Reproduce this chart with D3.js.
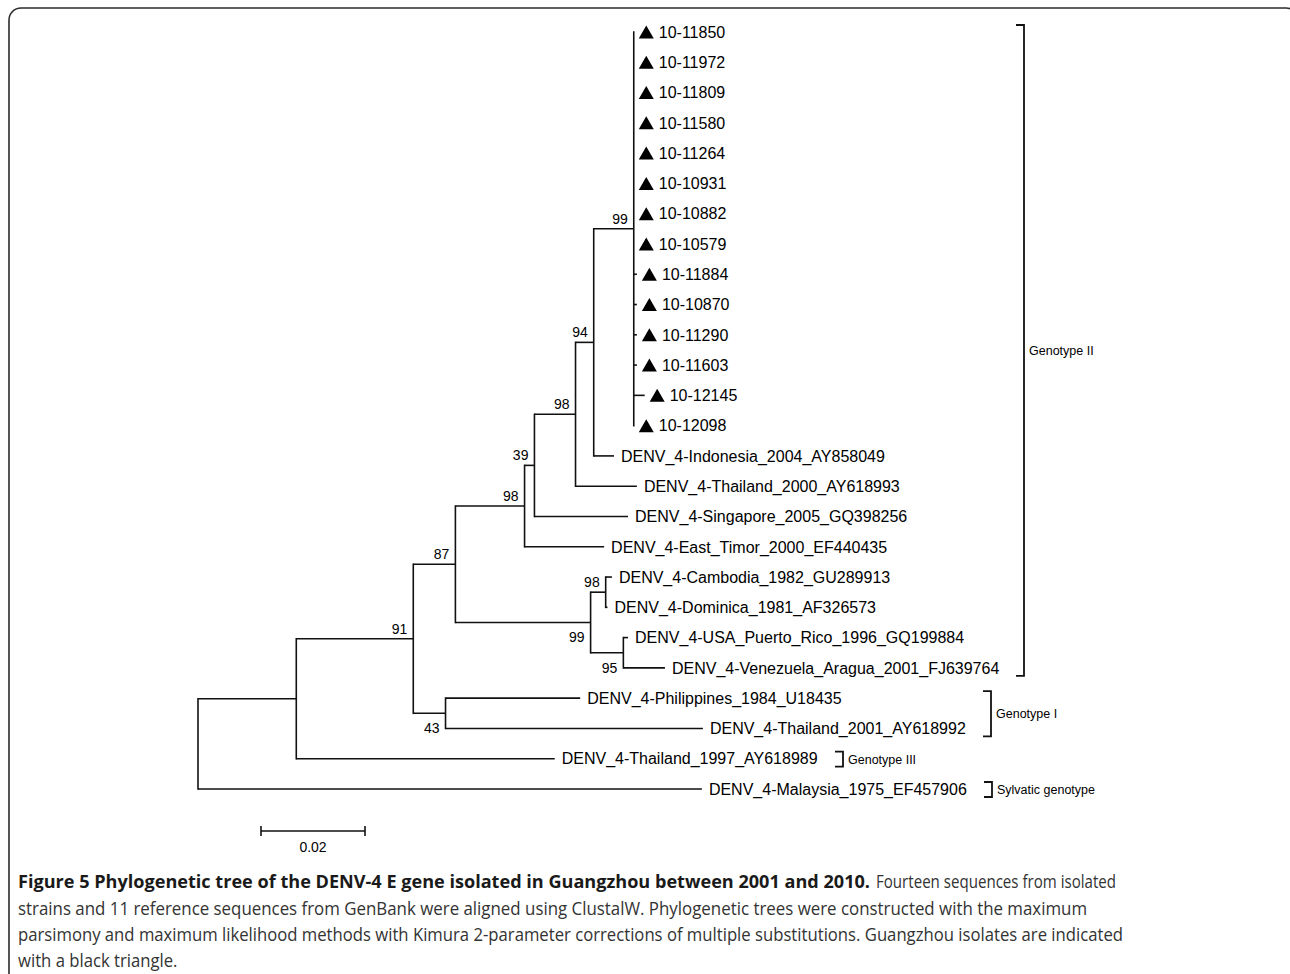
<!DOCTYPE html>
<html>
<head>
<meta charset="utf-8">
<script src="https://cdn.jsdelivr.net/npm/d3@7"></script>
<style>
  html, body { margin: 0; padding: 0; background: #fff; }
  svg { display: block; }
</style>
</head>
<body>
<svg id="chart" width="1290" height="974"></svg>
<script>
// ---------------- DATA ----------------
// Internal nodes of the tree (top-to-bottom child order is the order of appearance)
const internalNodes   = ["root", "A", "n91", "n87", "n98b", "n39", "n98a", "n94", "n99a", "n99b", "n98c", "n95", "n43"];
const internalParents = [null, "root", "A", "n91", "n87", "n98b", "n39", "n98a", "n94", "n87", "n99b", "n99b", "n91"];
const internalLengths = [0, 0.0189, 0.0225, 0.0081, 0.0133, 0.0019, 0.0079, 0.0035, 0.0077, 0.0260, 0.0029, 0.0063, 0.0062];
const bootstrap       = [null, null, 91, 87, 98, 39, 98, 94, 99, 99, 98, 95, 43];

// Leaves (taxa)
const leafNames = [
  "10-11850", "10-11972", "10-11809", "10-11580", "10-11264", "10-10931", "10-10882",
  "10-10579", "10-11884", "10-10870", "10-11290", "10-11603", "10-12145", "10-12098",
  "DENV_4-Indonesia_2004_AY858049", "DENV_4-Thailand_2000_AY618993",
  "DENV_4-Singapore_2005_GQ398256", "DENV_4-East_Timor_2000_EF440435",
  "DENV_4-Cambodia_1982_GU289913", "DENV_4-Dominica_1981_AF326573",
  "DENV_4-USA_Puerto_Rico_1996_GQ199884", "DENV_4-Venezuela_Aragua_2001_FJ639764",
  "DENV_4-Philippines_1984_U18435", "DENV_4-Thailand_2001_AY618992",
  "DENV_4-Thailand_1997_AY618989", "DENV_4-Malaysia_1975_EF457906"
];
const leafParents = [
  "n99a", "n99a", "n99a", "n99a", "n99a", "n99a", "n99a",
  "n99a", "n99a", "n99a", "n99a", "n99a", "n99a", "n99a",
  "n94", "n98a", "n39", "n98b", "n98c", "n98c", "n95", "n95",
  "n43", "n43", "A", "root"
];
const leafLengths = [
  0, 0, 0, 0, 0, 0, 0,
  0, 0.0006, 0.0006, 0.0006, 0.0006, 0.0021, 0,
  0.0039, 0.0118, 0.0180, 0.0153, 0.0012, 0.00035, 0.0009, 0.0080,
  0.0259, 0.0495, 0.0497, 0.0969
];
// Guangzhou isolates (black triangle)
const isolateFlags = [
  true, true, true, true, true, true, true,
  true, true, true, true, true, true, true,
  false, false, false, false, false, false, false, false,
  false, false, false, false
];

// Genotype groups
const genotypeNames     = ["Genotype II", "Genotype I", "Genotype III", "Sylvatic genotype"];
const genotypeFirstLeaf = ["10-11850", "DENV_4-Philippines_1984_U18435", "DENV_4-Thailand_1997_AY618989", "DENV_4-Malaysia_1975_EF457906"];
const genotypeLastLeaf  = ["DENV_4-Venezuela_Aragua_2001_FJ639764", "DENV_4-Thailand_2001_AY618992", "DENV_4-Thailand_1997_AY618989", "DENV_4-Malaysia_1975_EF457906"];

// Scale bar
const scaleBarValue = 0.02;
const scaleBarLabel = "0.02";

// Caption
const captionBold = "Figure 5 Phylogenetic tree of the DENV-4 E gene isolated in Guangzhou between 2001 and 2010.";
const captionLines = [
  "Fourteen sequences from isolated",
  "strains and 11 reference sequences from GenBank were aligned using ClustalW. Phylogenetic trees were constructed with the maximum",
  "parsimony and maximum likelihood methods with Kimura 2-parameter corrections of multiple substitutions. Guangzhou isolates are indicated",
  "with a black triangle."
];

// ---------------- BUILD ----------------
const rows = internalNodes.map((id, i) => ({
  id, parent: internalParents[i], length: internalLengths[i], support: bootstrap[i], leaf: false
})).concat(leafNames.map((id, i) => ({
  id, parent: leafParents[i], length: leafLengths[i], isolate: isolateFlags[i], leaf: true
})));

const root = d3.stratify().id(d => d.id).parentId(d => d.parent)(rows);
root.eachBefore(d => { d.dist = d.parent ? d.parent.dist + d.data.length : 0; });

const leaves = root.leaves();
const yScale = d3.scaleLinear().domain([0, leaves.length - 1]).range([32, 789]);
leaves.forEach((d, i) => { d.ypos = yScale(i); });
root.eachAfter(d => {
  if (d.children) d.ypos = (d.children[0].ypos + d.children[d.children.length - 1].ypos) / 2;
});

const xScale = d3.scaleLinear().domain([0, 0.02]).range([198, 302]);

const svg = d3.select("#chart");
const treeFont = "'Liberation Sans', Arial, Helvetica, sans-serif";

// Border
svg.append("rect")
  .attr("x", 9).attr("y", 8).attr("width", 1289).attr("height", 1100)
  .attr("rx", 12).attr("ry", 12)
  .attr("fill", "none").attr("stroke", "#2b2b2b").attr("stroke-width", 1.6);

const tree = svg.append("g");

// Horizontal branches
tree.selectAll("line.h")
  .data(root.descendants().filter(d => d.parent))
  .join("line")
  .attr("class", "h")
  .attr("x1", d => xScale(d.parent.dist))
  .attr("x2", d => xScale(d.dist))
  .attr("y1", d => d.ypos).attr("y2", d => d.ypos)
  .attr("stroke", "#111").attr("stroke-width", 1.6);

// Vertical connectors
tree.selectAll("line.v")
  .data(root.descendants().filter(d => d.children))
  .join("line")
  .attr("class", "v")
  .attr("x1", d => xScale(d.dist)).attr("x2", d => xScale(d.dist))
  .attr("y1", d => d.children[0].ypos - 0.8)
  .attr("y2", d => d.children[d.children.length - 1].ypos + 0.8)
  .attr("stroke", "#111").attr("stroke-width", 1.6);

// Triangles for isolates
tree.selectAll("path.tri")
  .data(leaves.filter(d => d.data.isolate))
  .join("path")
  .attr("class", "tri")
  .attr("d", d => {
    const x0 = xScale(d.dist) + 5, y = d.ypos;
    return `M${x0},${y + 6.5}L${x0 + 15},${y + 6.5}L${x0 + 7.5},${y - 6.5}Z`;
  })
  .attr("fill", "#000");

// Leaf labels
const labelSel = tree.selectAll("text.leaf")
  .data(leaves)
  .join("text")
  .attr("class", "leaf")
  .attr("x", d => xScale(d.dist) + (d.data.isolate ? 25 : 7))
  .attr("y", d => d.ypos)
  .attr("dy", "0.36em")
  .attr("font-family", treeFont)
  .attr("font-size", 16)
  .attr("fill", "#000")
  .text(d => d.id);

// Bootstrap values
tree.selectAll("text.boot")
  .data(root.descendants().filter(d => d.data.support != null))
  .join("text")
  .attr("class", "boot")
  .attr("x", d => xScale(d.dist) - 6)
  .attr("y", d => {
    const sib = d.parent.children;
    const lower = sib.length > 1 && sib[sib.length - 1] === d;
    return lower ? d.ypos + 20 : d.ypos - 5;
  })
  .attr("text-anchor", "end")
  .attr("font-family", treeFont)
  .attr("font-size", 14)
  .attr("fill", "#000")
  .text(d => d.data.support);

// Genotype brackets
const leafById = new Map(leaves.map(d => [d.id, d]));
const labelRight = new Map();
labelSel.each(function (d) {
  labelRight.set(d.id, +this.getAttribute("x") + this.getComputedTextLength());
});
genotypeNames.forEach((name, i) => {
  const a = leafById.get(genotypeFirstLeaf[i]);
  const b = leafById.get(genotypeLastLeaf[i]);
  const i0 = leaves.indexOf(a), i1 = leaves.indexOf(b);
  let maxRight = 0;
  for (let k = i0; k <= i1; k++) maxRight = Math.max(maxRight, labelRight.get(leaves[k].id));
  const bx = Math.round(maxRight + 25);
  const y0 = a.ypos - 7, y1 = b.ypos + 8;
  tree.append("path")
    .attr("d", `M${bx - 8},${y0}H${bx}V${y1}H${bx - 8}`)
    .attr("fill", "none").attr("stroke", "#111").attr("stroke-width", 1.8);
  tree.append("text")
    .attr("x", bx + 5)
    .attr("y", (y0 + y1) / 2)
    .attr("dy", "0.36em")
    .attr("font-family", treeFont)
    .attr("font-size", 12.5)
    .attr("fill", "#000")
    .text(name);
});

// Scale bar
const barX = 261, barY = 831;
const barLen = xScale(scaleBarValue) - xScale(0);
const bar = svg.append("g");
bar.append("line").attr("x1", barX).attr("x2", barX + barLen).attr("y1", barY).attr("y2", barY)
  .attr("stroke", "#111").attr("stroke-width", 1.6);
[barX, barX + barLen].forEach(x => {
  bar.append("line").attr("x1", x).attr("x2", x).attr("y1", barY - 5).attr("y2", barY + 5)
    .attr("stroke", "#111").attr("stroke-width", 1.6);
});
bar.append("text").attr("x", barX + barLen / 2).attr("y", 852)
  .attr("text-anchor", "middle").attr("font-family", treeFont).attr("font-size", 14)
  .attr("fill", "#000").text(scaleBarLabel);

// Caption
const capFont = "'Open Sans', 'Noto Sans', sans-serif";
const cap = svg.append("g").attr("font-family", capFont).attr("font-size", 18);
cap.append("text").attr("x", 18).attr("y", 888)
  .attr("font-weight", "bold").attr("fill", "#1a1a1a")
  .attr("textLength", 852).attr("lengthAdjust", "spacingAndGlyphs")
  .text(captionBold);
const capY = [888, 915, 941, 967];
const capX = [876, 18, 18, 18];
const capEnd = [1116, 1087, 1123, null];
const capTexts = captionLines.map((t, i) => cap.append("text")
  .attr("x", capX[i]).attr("y", capY[i]).attr("fill", "#333").text(t));
const natural3 = capTexts[2].node().getComputedTextLength();
const ratio = (1123 - 18) / natural3;
capTexts.forEach((t, i) => {
  const len = capEnd[i] != null ? capEnd[i] - capX[i] : t.node().getComputedTextLength() * ratio;
  t.attr("textLength", len).attr("lengthAdjust", "spacingAndGlyphs");
});
</script>
</body>
</html>
